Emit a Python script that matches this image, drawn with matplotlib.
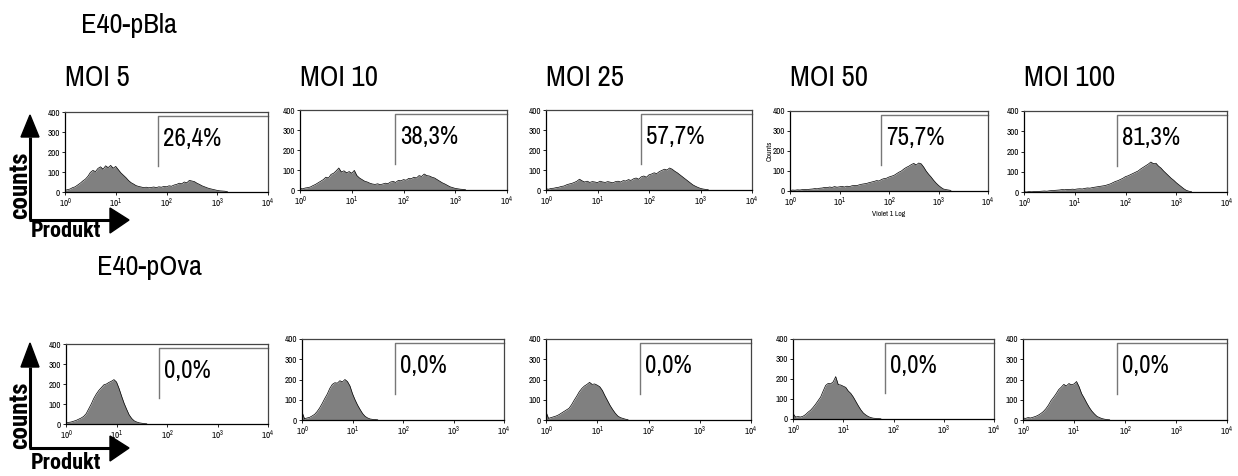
import numpy as np
import matplotlib
matplotlib.use('Agg')
import matplotlib.pyplot as plt
from matplotlib.patches import Polygon
from matplotlib.ticker import FixedLocator, NullLocator, FuncFormatter

NARROW = ['Archivo Narrow', 'Roboto Condensed', 'Liberation Sans', 'DejaVu Sans']
BOLD_NARROW = ['Roboto Condensed', 'Archivo Narrow', 'Liberation Sans', 'DejaVu Sans']
plt.rcParams['font.family'] = NARROW
plt.rcParams['mathtext.fontset'] = 'custom'
plt.rcParams['mathtext.rm'] = 'Archivo Narrow'
plt.rcParams['mathtext.it'] = 'Archivo Narrow'
plt.rcParams['mathtext.bf'] = 'Archivo Narrow'

# histogram channels, in decades of fluorescence (0.05 decade bins)
log_bins = np.round(np.arange(0, 3.45, 0.05), 2)

moi_labels = ['MOI 5', 'MOI 10', 'MOI 25', 'MOI 50', 'MOI 100']

# E40-pBla, counts per bin
pbla_moi5 = [8, 12, 15, 22, 26, 35, 44, 55, 64, 78, 98, 108, 102, 118, 126, 114, 131, 122, 133, 119,
             128, 112, 96, 84, 72, 58, 47, 40, 32, 28, 25, 22, 24, 21, 23, 25, 22, 26, 24, 28,
             26, 31, 29, 35, 38, 44, 41, 50, 46, 58, 55, 52, 44, 38, 31, 26, 21, 17, 14, 11,
             8, 6, 5, 4, 2]
pbla_moi10 = [8, 6, 10, 12, 15, 22, 28, 36, 44, 52, 64, 60, 78, 84, 96, 110, 90, 96, 86, 92,
              84, 98, 72, 60, 52, 44, 40, 34, 30, 28, 31, 27, 30, 34, 32, 40, 43, 38, 48, 46,
              52, 49, 58, 56, 64, 60, 72, 68, 80, 72, 70, 64, 60, 52, 44, 36, 30, 23, 16, 12,
              8, 6, 4, 3, 1]
pbla_moi25 = [6, 4, 8, 9, 12, 14, 18, 20, 26, 30, 33, 38, 44, 54, 46, 40, 44, 38, 42, 40,
              37, 44, 40, 38, 42, 39, 36, 42, 44, 40, 47, 45, 52, 48, 56, 60, 54, 66, 70, 64,
              76, 80, 86, 82, 92, 98, 104, 100, 110, 104, 94, 86, 76, 66, 56, 46, 36, 26, 19, 13,
              8, 5, 3, 2]
pbla_moi50 = [2, 5, 4, 6, 5, 7, 8, 7, 9, 10, 12, 11, 14, 15, 18, 17, 20, 18, 22, 19,
              21, 23, 20, 24, 22, 26, 28, 27, 31, 34, 36, 38, 42, 45, 48, 52, 50, 58, 62, 64,
              70, 74, 78, 86, 94, 100, 110, 118, 124, 132, 138, 130, 140, 136, 120, 100, 84, 70, 54, 40,
              28, 18, 10, 7, 5, 3]
pbla_moi100 = [1, 0, 2, 1, 2, 3, 3, 4, 5, 4, 6, 7, 8, 9, 10, 12, 11, 13, 12, 14,
               13, 15, 16, 15, 18, 20, 19, 22, 24, 26, 28, 30, 32, 36, 40, 46, 52, 56, 62, 68,
               76, 80, 86, 92, 98, 104, 114, 122, 130, 138, 148, 140, 142, 128, 118, 104, 92, 80, 68, 58,
               46, 36, 26, 16, 8, 4, 2]
pbla_pct = [26.4, 38.3, 57.7, 75.7, 81.3]

# E40-pOva, counts per bin
pova_moi5 = [6, 8, 10, 14, 18, 24, 30, 38, 52, 76, 100, 128, 150, 168, 182, 196, 200, 208, 214, 222,
             210, 178, 140, 104, 74, 46, 28, 16, 10, 6, 4, 2, 1]
pova_moi10 = [40, 6, 10, 13, 20, 28, 42, 60, 82, 106, 128, 156, 176, 184, 182, 194, 188, 200, 190, 168,
              130, 100, 74, 52, 32, 18, 10, 5, 3, 2, 1]
pova_moi25 = [40, 8, 12, 16, 20, 26, 34, 42, 50, 58, 76, 98, 118, 140, 156, 168, 176, 186, 176, 178,
              172, 164, 146, 120, 96, 72, 52, 34, 20, 12, 8, 4, 2]
pova_moi50 = [28, 10, 12, 10, 14, 22, 34, 44, 58, 74, 92, 110, 140, 168, 178, 176, 186, 212, 172, 170,
              164, 158, 140, 128, 110, 88, 66, 46, 30, 20, 12, 7, 4, 3, 2, 1]
pova_moi100 = [10, 8, 12, 10, 14, 18, 24, 32, 42, 56, 74, 96, 112, 130, 150, 162, 176, 168, 180, 174,
               178, 190, 164, 130, 108, 84, 62, 44, 30, 18, 12, 7, 4, 2, 1]
pova_pct = [0.0, 0.0, 0.0, 0.0, 0.0]

pbla_counts = [pbla_moi5, pbla_moi10, pbla_moi25, pbla_moi50, pbla_moi100]
pova_counts = [pova_moi5, pova_moi10, pova_moi25, pova_moi50, pova_moi100]

gate_start = 69      # lower edge of the positive gate
gate_low, gate_high = 130, 380

W, H = 1238, 476
fig = plt.figure(figsize=(W / 100, H / 100), dpi=100)

# panel boxes in pixels: left, right, top, bottom
top_boxes = [(65, 268, 112, 192), (300, 507, 110, 190), (546, 752, 110, 190),
             (790, 988, 111, 191), (1024, 1227, 111, 192)]
bottom_boxes = [(66, 268, 344, 424), (302, 504, 339, 420), (546, 751, 339, 420),
                (793, 994, 339, 419), (1023, 1227, 339, 420)]


def decade_label(v, pos):
    return r'$10^{%d}$' % int(round(np.log10(v)))


def histogram_panel(box, counts, pct):
    l, r, t, b = box
    ax = fig.add_axes([l / W, 1 - b / H, (r - l) / W, (b - t) / H])
    x = 10 ** log_bins[:len(counts)]
    ax.fill_between(x, counts, 0, color='#808080', lw=0)
    ax.plot(x, counts, color='black', lw=0.5)
    ax.set_xscale('log')
    ax.set_xlim(1, 1e4)
    ax.set_ylim(0, 400)
    ax.xaxis.set_major_locator(FixedLocator([1, 10, 100, 1000, 10000]))
    ax.xaxis.set_major_formatter(FuncFormatter(decade_label))
    ax.xaxis.set_minor_locator(NullLocator())
    ax.set_yticks([0, 100, 200, 300, 400])
    ax.tick_params(labelsize=6.5, length=2.5, width=0.6, pad=1, direction='out')
    ax.tick_params(top=False, right=False)
    for side in ['left', 'bottom']:
        ax.spines[side].set_linewidth(0.9)
        ax.spines[side].set_color('black')
    for side in ['top', 'right']:
        ax.spines[side].set_linewidth(0.9)
        ax.spines[side].set_color('#444444')
    # positive gate marker
    ax.plot([gate_start, gate_start, 1e4], [gate_low, gate_high, gate_high],
            color='#777777', lw=1.0, clip_on=False)
    ax.text(gate_start * 10 ** 0.1, 268, ('%.1f%%' % pct).replace('.', ','),
            fontsize=18, va='center', ha='left')
    return ax


for box, counts, pct in zip(top_boxes, pbla_counts, pbla_pct):
    histogram_panel(box, counts, pct)
ax4 = fig.axes[3]
ax4.set_ylabel('Counts', fontsize=5.5, labelpad=0)
ax4.set_xlabel('Violet 1 Log', fontsize=5.5, labelpad=1)

for box, counts, pct in zip(bottom_boxes, pova_counts, pova_pct):
    histogram_panel(box, counts, pct)

# overlay in pixel coordinates for headings and axis arrows
ov = fig.add_axes([0, 0, 1, 1], zorder=10)
ov.set_xlim(0, W)
ov.set_ylim(H, 0)
ov.axis('off')
ov.patch.set_alpha(0)

ov.text(81, 26, 'E40-pBla', fontsize=20.5, va='center', ha='left')
ov.text(97, 268, 'E40-pOva', fontsize=20.5, va='center', ha='left')
for (l, r, t, b), label in zip(top_boxes, moi_labels):
    ov.text(l, 77, label, fontsize=21, va='center', ha='left')


def axis_arrows(y_axis, y_tip, y_base, label_y, produkt_y):
    ov.plot([30, 30], [y_axis, y_base], color='black', lw=2.2, solid_capstyle='butt')
    ov.plot([29, 110], [y_axis, y_axis], color='black', lw=2.2, solid_capstyle='butt')
    ov.add_patch(Polygon([(21, y_base), (39, y_base), (30, y_tip)], closed=True, color='black'))
    ov.add_patch(Polygon([(110, y_axis - 12), (110, y_axis + 13), (129, y_axis)], closed=True,
                         color='black'))
    ov.text(20, label_y, 'counts', family=BOLD_NARROW, fontsize=18, fontweight='bold',
            rotation=90, va='center', ha='center')
    ov.text(31, produkt_y, 'Produkt', family=BOLD_NARROW, fontsize=16, fontweight='bold',
            va='center', ha='left')


axis_arrows(220, 115, 137, 185, 231)
axis_arrows(448, 343, 367, 415, 463)

fig.savefig('out.png', dpi=100)
